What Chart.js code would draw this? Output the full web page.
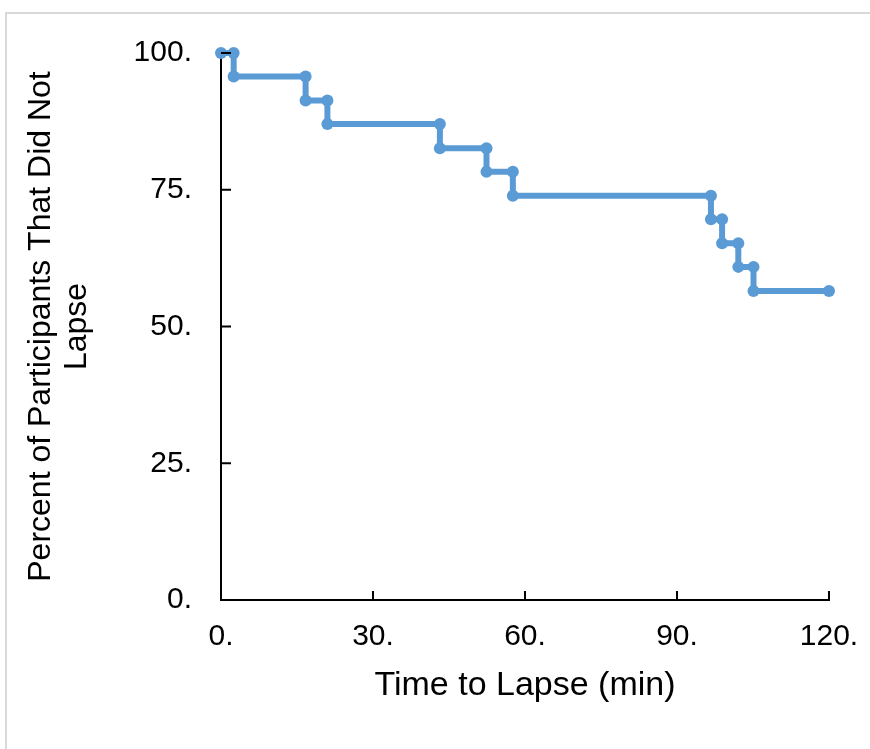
<!DOCTYPE html>
<html>
<head>
  <script src="https://cdn.jsdelivr.net/npm/chart.js@4"></script>
  <style>
    html, body { margin: 0; padding: 0; background: #fff; }
    #wrap { width: 870px; height: 749px; position: relative; }
  </style>
</head>
<body>
  <div id="wrap">
    <canvas id="myChart" width="870" height="749"></canvas>
  </div>
  <script>
    // step points of the survival curve (each drop has two points)
    const times = [0, 2.5, 2.5, 16.7, 16.7, 21.0, 21.0, 43.2, 43.2, 52.4, 52.4,
                   57.6, 57.6, 96.7, 96.7, 98.9, 98.9, 102.1, 102.1, 105.1, 105.1, 120]
    const percents = [100, 100, 95.7, 95.7, 91.3, 91.3, 87.0, 87.0, 82.6, 82.6, 78.3,
                      78.3, 73.9, 73.9, 69.6, 69.6, 65.2, 65.2, 60.9, 60.9, 56.5, 56.5]
    const xTicks = [0, 30, 60, 90, 120]
    const yTicks = [0, 25, 50, 75, 100]
    const xTitle = 'Time to Lapse (min)'
    const yTitle = ['Percent of Participants That Did Not', 'Lapse']

    const fontFamily = '"Liberation Sans", Arial, sans-serif'

    // light frame around the figure + inward tick marks
    const decor = {
      id: 'decor',
      beforeDraw(chart) {
        const ctx = chart.ctx
        ctx.save()
        ctx.strokeStyle = '#d9d9d9'
        ctx.lineWidth = 2
        ctx.beginPath()
        ctx.moveTo(6, 760)
        ctx.lineTo(6, 13)
        ctx.lineTo(880, 13)
        ctx.stroke()
        ctx.restore()
      },
      afterDatasetsDraw(chart) {
        const ctx = chart.ctx
        const x = chart.scales.x, y = chart.scales.y
        ctx.save()
        ctx.strokeStyle = '#000'
        ctx.lineWidth = 2
        ctx.beginPath()
        xTicks.slice(1).forEach(v => {
          const px = x.getPixelForValue(v)
          ctx.moveTo(px, y.bottom)
          ctx.lineTo(px, y.bottom - 9)
        })
        yTicks.slice(1).forEach(v => {
          const py = y.getPixelForValue(v)
          ctx.moveTo(x.left, py)
          ctx.lineTo(x.left + 10, py)
        })
        ctx.stroke()
        ctx.restore()
      }
    }

    const ctx = document.getElementById('myChart').getContext('2d')
    const chart = new Chart(ctx, {
      type: 'line',
      data: {
        datasets: [{
          data: times.map((t, i) => ({ x: t, y: percents[i] })),
          borderColor: '#5b9bd5',
          backgroundColor: '#5b9bd5',
          borderWidth: 6,
          pointRadius: 6,
          pointHoverRadius: 6,
          pointBorderWidth: 0,
          tension: 0,
          clip: false
        }]
      },
      options: {
        responsive: false,
        animation: false,
        events: [],
        layout: { autoPadding: false, padding: { top: 53, right: 41, left: 0, bottom: 0 } },
        plugins: { legend: { display: false }, tooltip: { enabled: false } },
        scales: {
          x: {
            type: 'linear',
            min: 0,
            max: 120,
            afterBuildTicks: s => { s.ticks = xTicks.map(v => ({ value: v })) },
            afterFit: s => { s.height = 149; s.paddingLeft = 0; s.paddingRight = 0 },
            grid: { drawOnChartArea: false, drawTicks: false },
            border: { color: '#000', width: 2 },
            ticks: {
              padding: 19,
              color: '#000',
              font: { family: fontFamily, size: 30 },
              callback: v => v + '.'
            },
            title: {
              display: true,
              text: xTitle,
              color: '#000',
              font: { family: fontFamily, size: 34, lineHeight: 1.2 },
              padding: { top: 0, bottom: 43 }
            }
          },
          y: {
            min: 0,
            max: 100,
            afterBuildTicks: s => { s.ticks = yTicks.map(v => ({ value: v })) },
            afterFit: s => { s.width = 221; s.paddingTop = 0; s.paddingBottom = 0 },
            grid: { drawOnChartArea: false, drawTicks: false },
            border: { color: '#000', width: 2 },
            ticks: {
              padding: 29,
              color: '#000',
              font: { family: fontFamily, size: 30 },
              callback: v => v + '.'
            },
            title: {
              display: true,
              text: yTitle,
              color: '#000',
              font: { family: fontFamily, size: 32, lineHeight: 1.1 },
              padding: { top: 24, bottom: 0 }
            }
          }
        }
      },
      plugins: [decor]
    })
  </script>
</body>
</html>
